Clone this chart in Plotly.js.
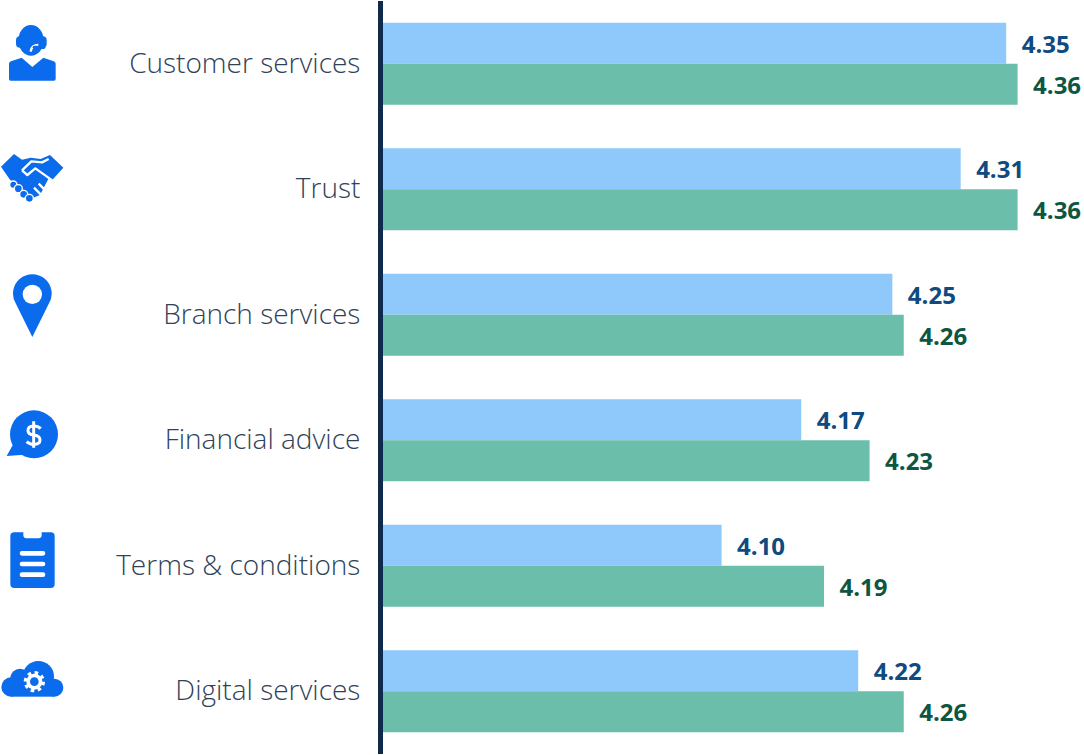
<!DOCTYPE html>
<html><head><meta charset="utf-8">
<script src="https://cdn.plot.ly/plotly-3.0.1.min.js"></script>
<style>html,body{margin:0;padding:0;background:#fff}#c{width:1084px;height:755px}</style>
</head><body><div id="c"></div>
<script>
const categories = ["Customer services","Trust","Branch services","Financial advice","Terms & conditions","Digital services"];
const seriesBlue = [4.35,4.31,4.25,4.17,4.10,4.22];
const seriesGreen = [4.36,4.36,4.26,4.23,4.19,4.26];
const colorBlue = "#8fc8fa", colorGreen = "#6bbfaa";
const textBlue = "#0f4a80", textGreen = "#0d5642";
const axisColor = "#0f2a4b", labelColor = "#2f4258", iconColor = "#0a6bec";
const W=1084,H=755,L=383,T=1,B=1;
const pad = "\u00a0\u00a0";

function bar(x,color,tc){return {type:"bar",orientation:"h",y:categories,x:x,
  marker:{color:color},texttemplate:pad+"%{x:.2f}",textposition:"outside",cliponaxis:false,constraintext:"none",
  textfont:{family:"Open Sans",size:24,weight:700,color:tc},hoverinfo:"skip"};}

const ic = iconColor;
const icons = [
 {x:0,y:15,w:75,h:75,svg:`<ellipse cx="93" cy="76" rx="38" ry="46" fill="${ic}"/><rect x="48" y="64" width="92" height="34" rx="12" fill="${ic}"/>
  <path d="M92 110Q94 90 115 90" fill="none" stroke="#fff" stroke-width="7"/><rect x="98" y="92" width="38" height="10" rx="5" fill="${ic}"/>
  <path d="M27 146Q27 141 33 139L65 128L97 156L130 128L161 139Q167 141 167 146V192Q167 197 162 197H32Q27 197 27 192Z" fill="${ic}"/>`},
 {x:0,y:145,w:75,h:65,svg:`<path d="M3 65L42 27L66 44L92 38L122 42L150 30L190 68L154 108L146 100L120 150L100 158L30 104Z" fill="${ic}"/>
  <path d="M66 76L94 49L126 52L146 42M66 76L82 90L106 70L162 110M102 128L122 148M116 116L136 136" fill="none" stroke="#fff" stroke-width="7" stroke-linejoin="round"/>
  <g fill="${ic}" stroke="#fff" stroke-width="4"><circle cx="40" cy="119" r="11"/><circle cx="55" cy="131" r="12"/><circle cx="71" cy="148" r="12"/><circle cx="88" cy="160" r="12"/></g>`},
 {x:0,y:270,w:75,h:75,svg:`<path d="M97 201L47 100A58 58 0 1 1 147 100Z" fill="${ic}"/><circle cx="97" cy="73" r="29" fill="#fff"/>`},
 {x:0,y:400,w:75,h:70,svg:`<circle cx="102" cy="103" r="72" fill="${ic}"/><path d="M20 168L42 128L72 164Z" fill="${ic}"/>
  <path d="M122 86Q114 78 101 78Q84 78 84 92Q84 103 102 105Q120 108 120 120Q120 133 102 133Q88 133 80 125M101 64V143" fill="none" stroke="#fff" stroke-width="9"/>`},
 {x:0,y:525,w:75,h:70,svg:`<rect x="31" y="22" width="133" height="167" rx="12" fill="${ic}"/><path d="M70 18V30Q70 40 80 40H115Q125 40 125 30V18Z" fill="#fff"/>
  <path d="M66 85H129M66 117H129M66 149H129" stroke="#fff" stroke-width="14" stroke-linecap="round"/>`},
 {x:0,y:650,w:75,h:60,svg:`<g fill="${ic}"><circle cx="33" cy="111" r="29"/><circle cx="60" cy="85" r="29"/><circle cx="115" cy="80" r="47"/><circle cx="163" cy="113" r="27"/><rect x="33" y="90" width="130" height="50"/></g>
  <circle cx="103" cy="95" r="24" fill="#fff"/><circle cx="103" cy="95" r="27" fill="none" stroke="#fff" stroke-width="10" stroke-dasharray="10.6 10.6"/><circle cx="103" cy="95" r="13" fill="${ic}"/>`}
];
const pw=W-L, ph=H-T-B;
const images = icons.map(o=>({
  source:"data:image/svg+xml,"+encodeURIComponent(`<svg xmlns="http://www.w3.org/2000/svg" width="${o.w*3}" height="${o.h*3}" viewBox="0 0 ${o.w*3} ${o.h*3}">${o.svg}</svg>`),
  xref:"paper",yref:"paper",xanchor:"left",yanchor:"top",sizing:"stretch",layer:"above",
  x:(o.x-L)/pw,y:(H-B-o.y)/ph,sizex:o.w/pw,sizey:o.h/ph}));

Plotly.newPlot("c",[bar(seriesBlue,colorBlue,textBlue),bar(seriesGreen,colorGreen,textGreen)],{
  width:W,height:H,margin:{l:L,r:0,t:T,b:B,autoexpand:false},
  paper_bgcolor:"#fff",plot_bgcolor:"#fff",showlegend:false,barmode:"group",bargap:0.347,bargroupgap:0,
  font:{family:"Open Sans"},
  xaxis:{visible:false,range:[3.8026,3.8026+pw/1138.5],fixedrange:true},
  yaxis:{autorange:"reversed",showgrid:false,zeroline:false,showline:true,linecolor:axisColor,linewidth:5,
    ticks:"",ticklabelstandoff:12,ticklabelshift:1,tickfont:{family:"Open Sans",size:28,weight:300,color:labelColor},fixedrange:true},
  images:images
},{displayModeBar:false,staticPlot:true});
</script></body></html>
